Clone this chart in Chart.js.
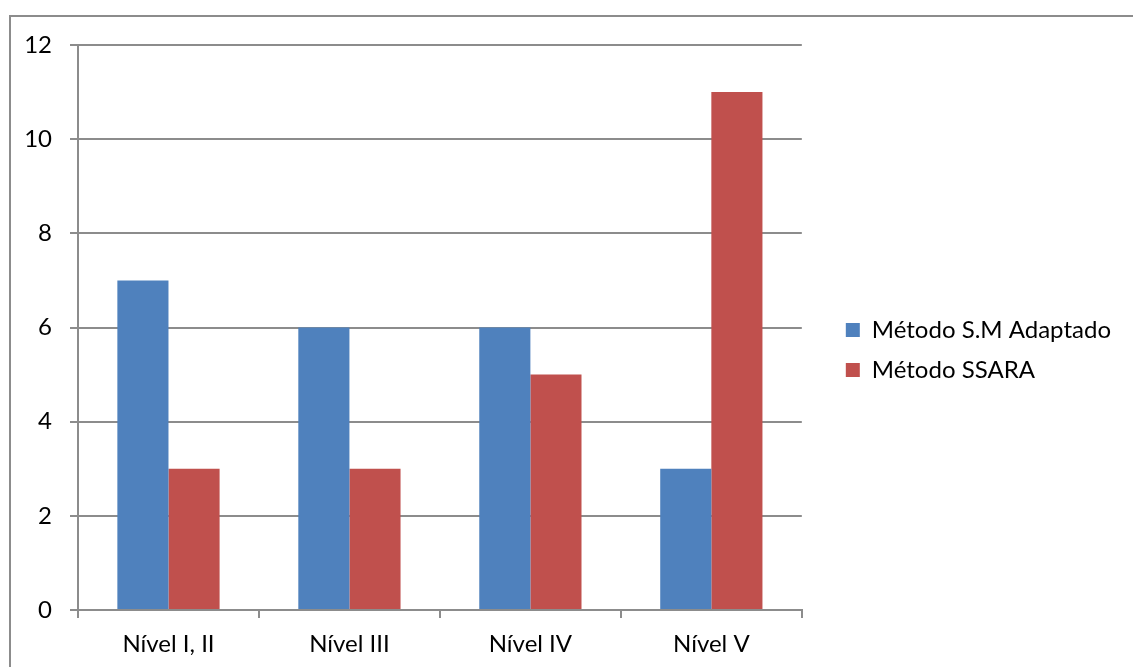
<!DOCTYPE html>
<html>
<head>
<meta charset="utf-8">
<script src="https://cdn.jsdelivr.net/npm/chart.js@4"></script>
<style>
  html, body { margin: 0; padding: 0; background: #fff; overflow: hidden; }
  #wrap { position: relative; width: 1133px; height: 667px; }
  #frame { position: absolute; left: 9px; top: 15px; width: 1200px; height: 800px;
           border-top: 2px solid #8c8c8c; border-left: 2px solid #8c8c8c; }
  canvas { position: absolute; left: 0; top: 0; }
</style>
</head>
<body>
<div id="wrap">
  <div id="frame"></div>
  <canvas id="barChart" width="1133" height="667"></canvas>
</div>
<script>
// chart data
const categories = ['Nível I, II', 'Nível III', 'Nível IV', 'Nível V'];
const smAdaptado = [7, 6, 6, 3];
const ssara = [3, 3, 5, 11];
const yTicks = [0, 2, 4, 6, 8, 10, 12];

const gridColor = '#8c8c8c';
const font = { family: 'Lato', size: 24 };

const ctx = document.getElementById('barChart').getContext('2d');
const barChart = new Chart(ctx, {
    type: 'bar',
    data: {
        labels: categories,
        datasets: [
            { label: 'Método S.M Adaptado', data: smAdaptado, backgroundColor: '#4f81bd' },
            { label: 'Método SSARA', data: ssara, backgroundColor: '#c0504d' }
        ]
    },
    options: {
        responsive: false,
        animation: false,
        categoryPercentage: 0.565,
        barPercentage: 1,
        layout: { padding: { top: 45, bottom: 12, left: 0, right: 12 } },
        plugins: {
            tooltip: { enabled: false },
            legend: {
                position: 'right',
                maxWidth: 400,
                labels: {
                    color: '#000',
                    font: font,
                    boxWidth: 14,
                    boxHeight: 14,
                    padding: 16
                }
            }
        },
        scales: {
            x: {
                offset: true,
                grid: { offset: true, drawOnChartArea: false, drawTicks: true, tickLength: 8, color: gridColor, lineWidth: 2 },
                border: { color: gridColor, width: 2 },
                ticks: { color: '#000', font: font, padding: 12, maxRotation: 0 },
                afterFit: scale => { scale.height = 45; }
            },
            y: {
                min: 0,
                max: 12,
                afterBuildTicks: scale => { scale.ticks = yTicks.map(v => ({ value: v })); },
                grid: { color: gridColor, lineWidth: 2, tickLength: 8 },
                border: { color: gridColor, width: 2 },
                ticks: { color: '#000', font: font, padding: 18 },
                afterFit: scale => { scale.width = 78; }
            },
            // empty axis only to keep the gap between plot and legend
            gap: {
                type: 'linear',
                position: 'right',
                grid: { display: false },
                border: { display: false },
                ticks: { display: false },
                afterFit: scale => { scale.width = 28; }
            }
        }
    }
});
</script>
</body>
</html>
